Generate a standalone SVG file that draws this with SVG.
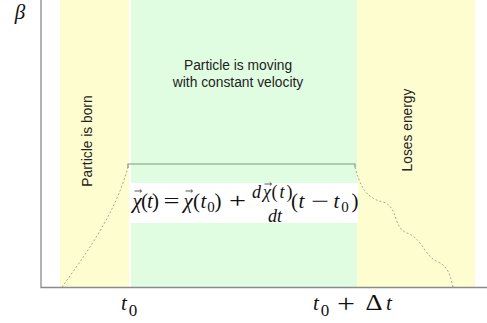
<svg xmlns="http://www.w3.org/2000/svg" width="487" height="323" viewBox="0 0 487 323">
<style>
.lbl{font-family:"Liberation Sans",Arial,sans-serif;font-size:13.8px;fill:#222}
.m{font-family:"Liberation Serif","Times New Roman",serif;font-size:21px;fill:#111;text-anchor:middle}
.i{font-style:italic}
.n{font-size:18px}
.sub{font-size:15px}
.ax{stroke:#8a8a8a;stroke-width:1.3;fill:none}
.dash{stroke:#a8a890;stroke-width:1;stroke-dasharray:2,2;fill:none}
.vec{stroke:#111;stroke-width:0.7;fill:none}
</style>
<defs>
<path id="vec" d="M-3.5,0 h7 M1.8,-1.6 L3.5,0 L1.8,1.6" class="vec"/>
</defs>
<rect x="0" y="0" width="487" height="323" fill="#fff"/>
<g id="band-born"><rect x="60" y="0" width="69" height="287" fill="#fefdd0"/>
<text class="lbl" transform="translate(92,141) rotate(-90)" text-anchor="middle">Particle is born</text></g>
<g id="band-moving"><rect x="131" y="0" width="226" height="287" fill="#e1fde1"/>
<text class="lbl" x="238" y="70" text-anchor="middle">Particle is moving</text>
<text class="lbl" x="238" y="87" text-anchor="middle">with constant velocity</text></g>
<g id="band-loses"><rect x="357" y="0" width="118" height="287" fill="#fefdd0"/>
<text class="lbl" transform="translate(412,130) rotate(-90)" text-anchor="middle">Loses energy</text></g>
<g id="connectors">
<path class="dash" d="M62,287 C85,255 115,215 128,167"/>
<path d="M128,168 V164 H355 V167" stroke="#7e9a7e" stroke-width="1.2" fill="none"/>
<path class="dash" d="M355,167 C360,185 365,198 383,202 C398,206 393,228 407,233 C422,238 424,256 438,262 C448,266 450,275 453,287"/>
</g>
<g id="formula">
<rect x="131" y="183" width="227" height="40" fill="#fff"/>
<text class="m i" x="137" y="208">χ</text>
<use href="#vec" x="138" y="191"/>
<text class="m" x="144.5" y="208">(</text>
<text class="m i" x="150" y="208">t</text>
<text class="m" x="155.5" y="208">)</text>
<text class="m" x="171.5" y="208" textLength="16" lengthAdjust="spacingAndGlyphs">=</text>
<text class="m i" x="188" y="208">χ</text>
<use href="#vec" x="189" y="191"/>
<text class="m" x="196.5" y="208">(</text>
<text class="m i" x="203.5" y="208">t</text>
<text class="m sub" x="211" y="212">0</text>
<text class="m" x="218" y="208">)</text>
<text class="m" x="237.5" y="208" textLength="17" lengthAdjust="spacingAndGlyphs">+</text>
<text class="m i n" x="256.5" y="198">d</text>
<text class="m i n" x="267" y="198">χ</text>
<use href="#vec" x="268" y="184"/>
<text class="m n" x="274.5" y="198">(</text>
<text class="m i n" x="282" y="198">t</text>
<text class="m n" x="289.5" y="198">)</text>
<text class="m i n" x="275" y="222">dt</text>
<text class="m" x="294.5" y="208">(</text>
<text class="m i" x="301.5" y="208">t</text>
<text class="m" x="320" y="208" textLength="18" lengthAdjust="spacingAndGlyphs">−</text>
<text class="m i" x="336.5" y="208">t</text>
<text class="m sub" x="345" y="212">0</text>
<text class="m" x="355" y="208">)</text>
</g>
<g id="axes">
<path class="ax" d="M41,0 V287.5 H487"/>
</g>
<g id="labels">
<text class="m i" x="20" y="19" style="font-size:21px">β</text>
<text class="m i" x="124" y="310" style="font-size:21px">t</text>
<text class="m" x="133" y="316" style="font-size:17px">0</text>
<text class="m i" x="316" y="310" style="font-size:21px">t</text>
<text class="m" x="325" y="316" style="font-size:17px">0</text>
<text class="m" x="346" y="312" style="font-size:26px" textLength="18" lengthAdjust="spacingAndGlyphs">+</text>
<text class="m" x="374" y="310" style="font-size:23px" textLength="17" lengthAdjust="spacingAndGlyphs">Δ</text>
<text class="m i" x="389" y="310" style="font-size:21px">t</text>
</g>
</svg>
